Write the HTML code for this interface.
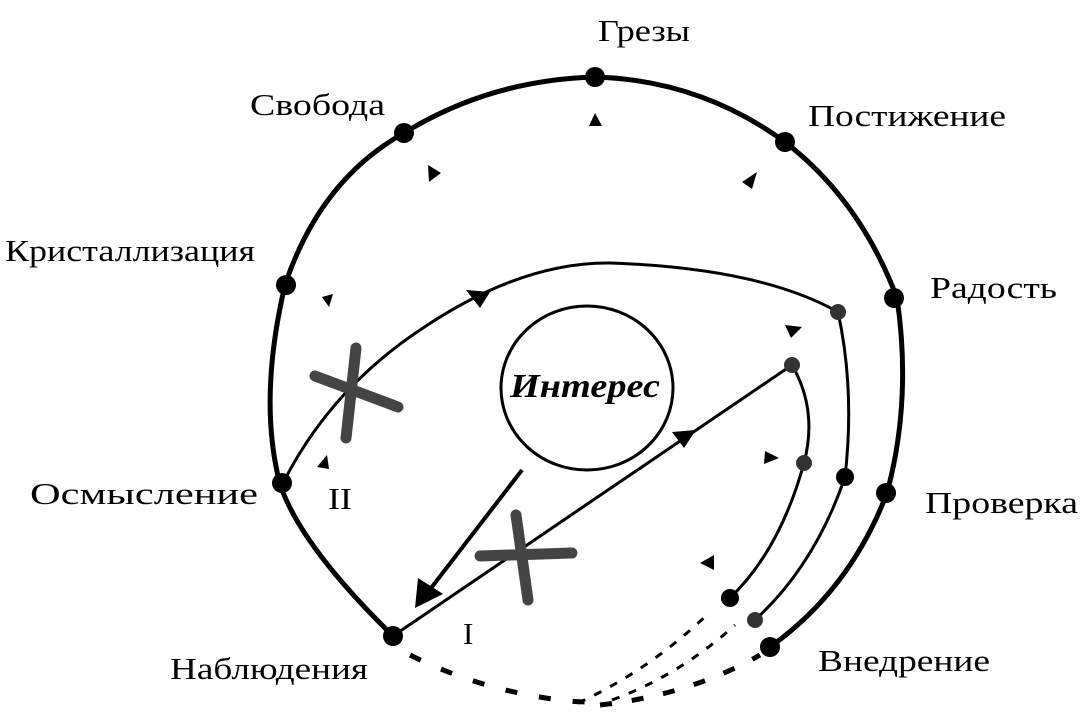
<!DOCTYPE html>
<html><head><meta charset="utf-8"><style>
html,body{margin:0;padding:0;background:#fff;}
svg{display:block;}
text{font-family:"Liberation Serif",serif;fill:#000;}
</style></head><body>
<svg width="1081" height="716" viewBox="0 0 1081 716" xmlns="http://www.w3.org/2000/svg">
<!-- outer circle -->
<path d="M393,636 Q300,545 280,484 Q258,400 285,285 Q320,180 404,133 Q490,80 595,77 Q700,80 785,142 Q860,200 897,298 Q912,400 887,493 Q850,590 770,647" fill="none" stroke="#000" stroke-width="5"/>
<!-- inner arc II -->
<path d="M283,483 Q330,390 420,330 Q520,262 610,263 Q760,268 838,312 Q855,390 845,477 Q815,565 755,620" fill="none" stroke="#000" stroke-width="3"/>
<!-- path I -->
<path d="M393,636 L792,365 Q818,410 804,463 Q780,550 730,598" fill="none" stroke="#000" stroke-width="3"/>
<!-- dashed -->
<path d="M410,655 Q480,690 560,700 Q575,702 590,702" fill="none" stroke="#000" stroke-width="5" stroke-dasharray="12,22"/>
<path d="M578,703 Q650,670 710,612" fill="none" stroke="#000" stroke-width="3" stroke-dasharray="8,10"/>
<path d="M612,700 Q680,675 735,625" fill="none" stroke="#000" stroke-width="3" stroke-dasharray="8,10"/>
<path d="M600,705 Q690,695 760,655" fill="none" stroke="#000" stroke-width="5" stroke-dasharray="12,20"/>
<!-- big arrow -->
<line x1="522" y1="470" x2="428" y2="592" stroke="#000" stroke-width="4"/>
<polygon points="415,608 418,578 443,594" fill="#000"/>
<!-- arrows on paths -->
<polygon points="490,292 466,290 480,308" fill="#000"/>
<polygon points="696,430 672,432 684,448" fill="#000"/>
<!-- small triangles -->
<polygon points="595,113 589,126 602,126" fill="#000"/>
<polygon points="441,173 428,165 429,182" fill="#000"/>
<polygon points="742,182 757,172 752,189" fill="#000"/>
<polygon points="322,297 333,294 329,307" fill="#000"/>
<polygon points="802,327 785,325 791,338" fill="#000"/>
<polygon points="317,467 327,455 329,469" fill="#000"/>
<polygon points="779,458 765,451 764,464" fill="#000"/>
<polygon points="700,563 714,555 714,570" fill="#000"/>
<!-- X marks -->
<g stroke="#444" stroke-width="11" stroke-linecap="round">
<line x1="315" y1="376" x2="398" y2="407"/>
<line x1="356" y1="348" x2="346" y2="438"/>
<line x1="480" y1="556" x2="572" y2="553"/>
<line x1="516" y1="515" x2="528" y2="600"/>
</g>
<!-- dots outer -->
<g fill="#000">
<circle cx="595" cy="77" r="10"/>
<circle cx="404" cy="133" r="10"/>
<circle cx="785" cy="142" r="10"/>
<circle cx="286" cy="285" r="10"/>
<circle cx="894" cy="298" r="10"/>
<circle cx="282" cy="483" r="10"/>
<circle cx="886" cy="493" r="10"/>
<circle cx="393" cy="636" r="10"/>
<circle cx="770" cy="647" r="10"/>
<circle cx="845" cy="477" r="9"/>
<circle cx="730" cy="598" r="9"/>
</g>
<g fill="#333">
<circle cx="838" cy="312" r="8"/>
<circle cx="792" cy="365" r="8"/>
<circle cx="804" cy="463" r="8"/>
<circle cx="755" cy="620" r="8"/>
</g>
<!-- center circle -->
<ellipse cx="587" cy="388" rx="86" ry="82" fill="none" stroke="#000" stroke-width="3"/>
<text x="585" y="397" font-size="34" font-weight="bold" font-style="italic" text-anchor="middle" textLength="150" lengthAdjust="spacingAndGlyphs">Интерес</text>
<!-- labels -->
<g font-size="31">
<text x="598" y="41" textLength="92" lengthAdjust="spacingAndGlyphs">Грезы</text>
<text x="250" y="115" textLength="135" lengthAdjust="spacingAndGlyphs">Свобода</text>
<text x="808" y="126" textLength="198" lengthAdjust="spacingAndGlyphs">Постижение</text>
<text x="5" y="261" textLength="250" lengthAdjust="spacingAndGlyphs">Кристаллизация</text>
<text x="930" y="298" textLength="127" lengthAdjust="spacingAndGlyphs">Радость</text>
<text x="30" y="504" textLength="228" lengthAdjust="spacingAndGlyphs">Осмысление</text>
<text x="925" y="513" textLength="153" lengthAdjust="spacingAndGlyphs">Проверка</text>
<text x="170" y="679" textLength="198" lengthAdjust="spacingAndGlyphs">Наблюдения</text>
<text x="818" y="671" textLength="172" lengthAdjust="spacingAndGlyphs">Внедрение</text>
<text x="328" y="509" textLength="24" lengthAdjust="spacingAndGlyphs">II</text>
<text x="463" y="644">I</text>
</g>
</svg>
</body></html>
